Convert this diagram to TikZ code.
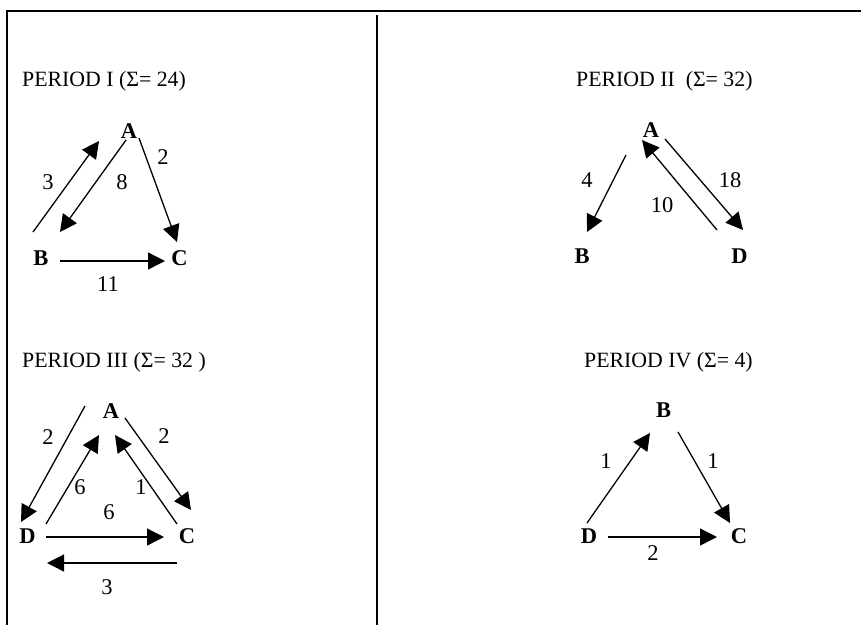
\documentclass[tikz,border=0pt]{standalone}
\usepackage{fontspec}
\setmainfont{Liberation Serif}
\usetikzlibrary{arrows.meta}
\begin{document}
\begin{tikzpicture}[x=1pt,y=-1pt,
  every node/.style={inner sep=0pt, font=\fontsize{22.5}{26}\selectfont},
  vtx/.style={font=\fontsize{22.5}{26}\selectfont\bfseries},
  num/.style={},
  ttl/.style={anchor=base west, font=\fontsize{21.8}{26}\selectfont},
  arr/.style={line width=1.3pt, -{Triangle[length=17pt,width=17pt]}},
  frame/.style={line width=1.6pt}]
\useasboundingbox (0,0) rectangle (861,625);
% frame
\coordinate (tl) at (7,11);
\coordinate (tr) at (861,11);
\coordinate (bl) at (7,625);
\coordinate (mt) at (377,15);
\coordinate (mb) at (377,625);
\draw[frame] (tr) -- (tl) -- (bl);
\draw[frame] (mt) -- (mb);

% ---------- Period I ----------
\node[ttl] (t1) at (22,86) {PERIOD I (Σ= 24)};
\node[vtx] (A1) at (129,131) {A};
\node[vtx] (B1) at (41,258) {B};
\node[vtx] (C1) at (179.5,258) {C};
\coordinate (p1a) at (33,232);  \coordinate (p1b) at (99,141);
\coordinate (p1c) at (126,140); \coordinate (p1d) at (60,232);
\coordinate (p1e) at (139,138); \coordinate (p1f) at (177,242);
\coordinate (p1g) at (60,261);  \coordinate (p1h) at (165,261);
\draw[arr] (p1a) -- (p1b);
\draw[arr] (p1c) -- (p1d);
\draw[arr] (p1e) -- (p1f);
\draw[arr] (p1g) -- (p1h);
\node[num] (n13) at (48,182) {3};
\node[num] (n18) at (122,182) {8};
\node[num] (n12) at (163,157) {2};
\node[num] (n111) at (108,284) {11};

% ---------- Period II ----------
\node[ttl] (t2) at (576,86) {PERIOD II\ \ (Σ= 32)};
\node[vtx] (A2) at (651,130) {A};
\node[vtx] (B2) at (582,256.5) {B};
\node[vtx] (D2) at (739.5,256.5) {D};
\coordinate (p2a) at (626,155); \coordinate (p2b) at (587,232);
\coordinate (p2c) at (717,230); \coordinate (p2d) at (642,140);
\coordinate (p2e) at (665,139); \coordinate (p2f) at (743,230);
\draw[arr] (p2a) -- (p2b);
\draw[arr] (p2c) -- (p2d);
\draw[arr] (p2e) -- (p2f);
\node[num] (n24) at (587,180) {4};
\node[num] (n218) at (730,180) {18};
\node[num] (n210) at (662,205) {10};

% ---------- Period III ----------
\node[ttl] (t3) at (22,367) {PERIOD III (Σ= 32 )};
\node[vtx] (A3) at (111,411) {A};
\node[vtx] (D3) at (27.5,536.5) {D};
\node[vtx] (C3) at (187,536.5) {C};
\coordinate (p3a) at (85,406);  \coordinate (p3b) at (21,522);
\coordinate (p3c) at (46,524);  \coordinate (p3d) at (99,435);
\coordinate (p3e) at (125,418); \coordinate (p3f) at (191,510);
\coordinate (p3g) at (177,524); \coordinate (p3h) at (115,435);
\coordinate (p3i) at (46,537);  \coordinate (p3j) at (164,537);
\coordinate (p3k) at (177,563); \coordinate (p3l) at (47,563);
\draw[arr] (p3a) -- (p3b);
\draw[arr] (p3c) -- (p3d);
\draw[arr] (p3e) -- (p3f);
\draw[arr] (p3g) -- (p3h);
\draw[arr] (p3i) -- (p3j);
\draw[arr] (p3k) -- (p3l);
\node[num] (n32a) at (48,437) {2};
\node[num] (n32b) at (164,436) {2};
\node[num] (n36a) at (80,487) {6};
\node[num] (n31) at (141,487) {1};
\node[num] (n36b) at (109,512) {6};
\node[num] (n33) at (107,587) {3};

% ---------- Period IV ----------
\node[ttl] (t4) at (584,367) {PERIOD IV (Σ= 4)};
\node[vtx] (B4) at (663.5,410) {B};
\node[vtx] (D4) at (589,536) {D};
\node[vtx] (C4) at (739,536) {C};
\coordinate (p4a) at (587,523); \coordinate (p4b) at (650,433);
\coordinate (p4c) at (678,432); \coordinate (p4d) at (730,523);
\coordinate (p4e) at (608,537); \coordinate (p4f) at (717,537);
\draw[arr] (p4a) -- (p4b);
\draw[arr] (p4c) -- (p4d);
\draw[arr] (p4e) -- (p4f);
\node[num] (n41a) at (606,461) {1};
\node[num] (n41b) at (713,461) {1};
\node[num] (n42) at (653,553) {2};
\end{tikzpicture}
\end{document}
